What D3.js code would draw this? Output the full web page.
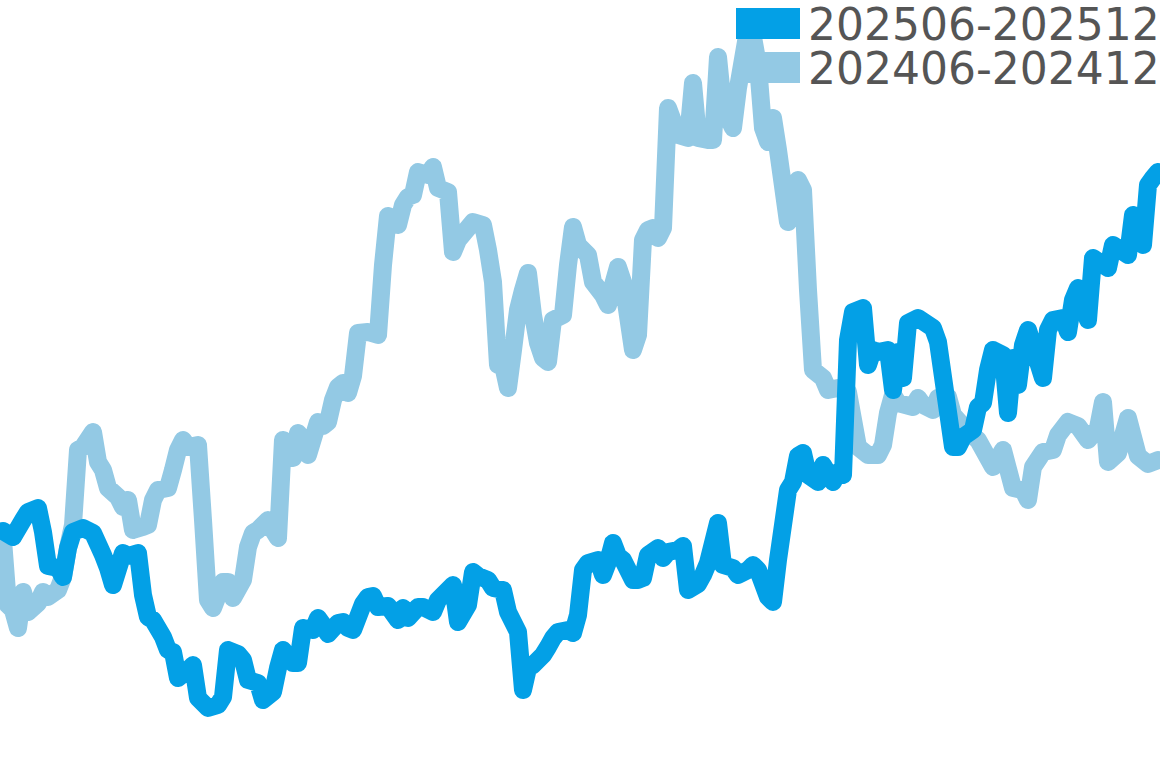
<!DOCTYPE html>
<html>
<head>
<meta charset="utf-8">
<script src="https://cdn.jsdelivr.net/npm/d3@7"></script>
<style>
html,body{margin:0;padding:0;background:#fff;}
svg{display:block;}
</style>
</head>
<body>
<svg id="chart" width="1160" height="768"></svg>
<script>
// Series labels and colours
const seriesNames = ["202506-202512", "202406-202412"];
const seriesColors = ["#03a0e6", "#93c9e4"];

// 202506-202512 : time position and value
const t2025 = [0,2,4,5,7,8,9,11,12,13,14,16,18,20,21,22,24,25,27,28,29,30,32,33,34,35,37,38,39,41,43,44,45,47,48,49,51,52,54,55,56,58,59,60,62,63,64,65,67,68,69,70,72,73,74,75,77,79,80,81,83,84,86,87,89,90,91,93,94,95,97,98,100,101,103,104,105,106,108,109,110,111,113,114,115,116,117,119,120,121,122,123,124,126,127,128,129,131,132,133,135,136,137,139,140,141,142,143,144,146,147,149,150,151,153,154,155,157,158,159,160,161,163,164,166,167,168,169,170,172,173,174,175,177,178,179,180,181,183,186,187,189,190,191,192,194,195,196,197,198,200,201,202,203,204,205,208,209,210,212,213,214,215,217,218,221,222,225,226,228,229,230,231];
const v2025 = [37.8,36.6,40.0,41.6,42.4,37.6,30.8,30.4,28.6,34.4,37.6,38.4,37.4,33.0,30.4,27.0,33.4,32.8,33.4,25.0,20.6,20.0,16.6,14.0,13.6,8.4,10.0,11.0,4.4,2.4,3.0,4.6,14.0,13.2,12.0,8.0,7.4,4.0,5.6,10.4,14.0,11.4,11.4,18.4,18.0,20.4,19.0,17.2,19.4,19.6,18.4,18.0,23.2,24.6,24.8,22.6,22.8,20.0,22.4,20.4,22.6,22.6,21.6,24.0,26.0,27.0,19.6,23.0,29.6,28.8,28.0,26.4,26.0,21.6,17.6,6.0,10.4,11.0,13.0,14.6,16.4,17.6,18.0,17.4,21.0,30.0,31.4,32.0,29.0,31.6,35.4,32.8,32.0,28.0,28.0,28.4,33.0,34.4,32.4,33.6,34.0,34.8,26.0,27.2,29.0,31.4,35.4,39.4,31.0,30.4,29.0,30.0,31.0,30.0,24.6,23.6,32.0,46.0,47.6,52.8,53.4,49.0,47.6,51.0,47.6,49.6,49.0,76.0,81.6,82.4,71.0,74.0,73.6,74.0,66.0,73.6,68.4,79.4,80.4,78.4,75.6,61.6,54.6,54.6,56.6,58.0,62.6,63.4,70.0,74.0,73.0,61.4,72.4,67.0,75.0,78.0,68.4,78.0,80.0,80.4,77.6,84.0,86.4,80.0,92.4,90.4,95.0,93.0,101.0,95.0,107.0,108.4,109.6];

// 202406-202412 : time position and value
const t2024 = [0,1,2,3,4,5,7,8,9,11,12,13,14,15,16,18,19,20,21,23,24,25,26,28,29,30,31,33,34,35,36,37,39,40,41,42,44,45,46,48,49,50,51,53,54,55,56,58,59,60,61,63,64,65,66,67,68,69,70,71,73,75,76,77,79,80,81,82,83,85,86,87,89,90,91,93,94,96,97,98,99,100,101,102,103,104,105,106,107,108,109,110,112,113,114,115,117,118,120,121,122,123,124,126,127,128,129,130,131,132,133,135,137,138,139,141,142,143,144,146,147,149,150,151,152,153,154,155,157,158,159,160,161,162,164,165,167,169,171,173,175,176,177,178,179,182,183,184,186,187,189,190,193,195,198,200,202,204,205,206,208,210,211,213,215,217,219,220,221,223,225,227,229,231];
const v2024 = [36.0,23.0,22.0,18.4,25.6,21.6,23.4,25.6,24.6,26.0,28.6,34.4,39.0,54.0,54.6,57.6,51.6,50.0,46.4,44.6,42.6,44.0,38.0,38.6,39.0,44.0,46.0,46.4,50.0,54.0,56.0,54.6,55.0,40.0,24.0,22.4,27.6,27.6,24.4,28.0,34.6,37.4,38.0,40.0,38.0,36.4,56.0,52.4,57.4,56.0,53.0,59.6,58.8,59.6,64.0,66.6,67.4,65.4,68.8,77.4,77.6,77.0,91.0,100.8,99.0,103.0,104.6,105.0,109.6,109.0,110.6,106.4,105.6,93.6,96.0,98.4,99.6,99.0,94.0,87.6,71.0,71.0,66.4,74.0,82.0,86.0,89.4,81.0,75.4,72.4,71.6,80.0,81.0,91.0,98.6,95.0,93.0,87.6,85.0,83.0,87.0,90.6,87.6,74.0,77.0,96.0,98.0,98.4,96.4,98.4,122.4,117.0,116.4,127.4,116.4,116.0,116.0,132.6,122.6,118.4,126.4,138.0,136.6,131.0,118.4,115.6,120.4,114.0,99.6,103.0,108.0,106.0,86.0,70.0,68.4,66.0,66.4,65.6,54.6,53.0,53.0,55.0,61.4,65.0,63.4,62.6,64.4,63.0,62.0,64.4,64.6,61.0,57.6,56.0,50.6,54.0,46.4,46.0,44.0,50.6,53.6,54.0,57.0,59.6,58.8,56.0,58.4,63.6,51.6,53.4,60.4,52.8,51.2,52.0];

const svg = d3.select("#chart");

const x = d3.scaleLinear().domain([0, 231]).range([3, 1158]);
const y = d3.scaleLinear().domain([0, 144]).range([720, 0]);

const line = d3.line()
  .x(d => x(d[0]))
  .y(d => y(d[1]))
  .curve(d3.curveLinear);

const data2024 = t2024.map((t, i) => [t, v2024[i]]);
const data2025 = t2025.map((t, i) => [t, v2025[i]]);

// older series drawn first (underneath)
svg.append("path")
  .datum(data2024)
  .attr("d", line)
  .attr("fill", "none")
  .attr("stroke", seriesColors[1])
  .attr("stroke-width", 18)
  .attr("stroke-linejoin", "round")
  .attr("stroke-linecap", "round");

svg.append("path")
  .datum(data2025)
  .attr("d", line)
  .attr("fill", "none")
  .attr("stroke", seriesColors[0])
  .attr("stroke-width", 18)
  .attr("stroke-linejoin", "round")
  .attr("stroke-linecap", "round");

// legend
const legend = svg.append("g").attr("transform", "translate(736,8)");
seriesNames.forEach((name, i) => {
  const g = legend.append("g").attr("transform", `translate(0,${i * 44})`);
  g.append("rect")
    .attr("x", 0).attr("y", 0)
    .attr("width", 64).attr("height", 31)
    .attr("fill", seriesColors[i]);
  g.append("text")
    .attr("x", 72).attr("y", 31.5)
    .attr("font-family", "DejaVu Sans, sans-serif")
    .attr("font-size", 44)
    .attr("fill", "#555555")
    .text(name);
});
</script>
</body>
</html>
